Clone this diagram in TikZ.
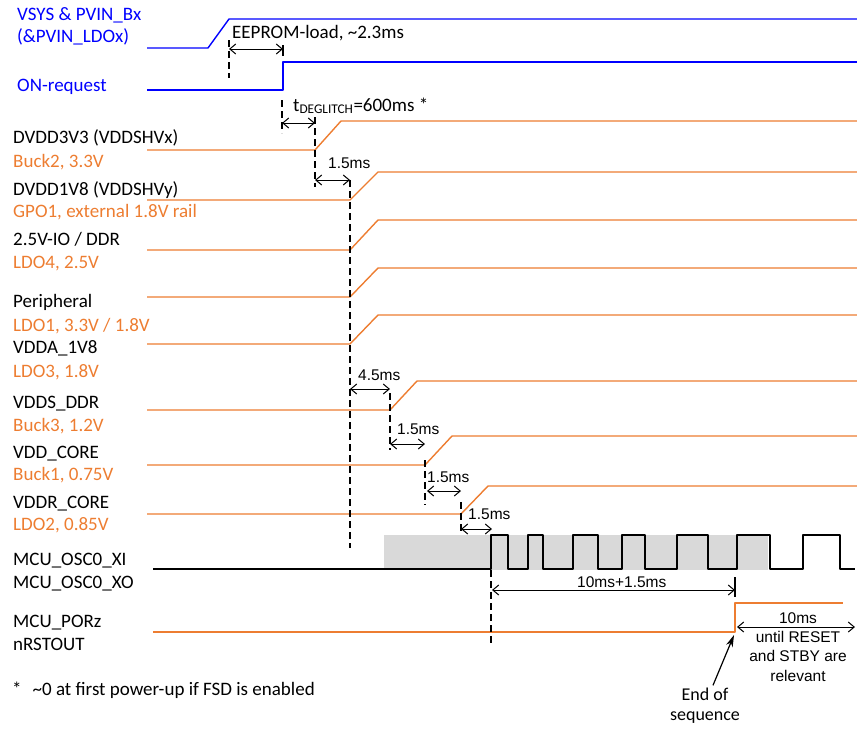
\documentclass[tikz,border=0pt]{standalone}
\usepackage{fontspec}
\setmainfont{Carlito}
\newfontfamily\arialfont{Liberation Sans}
\usetikzlibrary{arrows.meta}
\definecolor{railorange}{RGB}{237,125,49}
\definecolor{railblue}{RGB}{0,0,255}
\definecolor{oscgray}{RGB}{217,217,217}
\begin{document}
\begin{tikzpicture}[x=1pt, y=-1pt, font=\fontsize{19}{22}\selectfont, line join=round,
	>={Straight Barb[length=6pt,width=10pt]},
	lbl/.style={anchor=base west, inner sep=0pt},
	mslbl/.style={anchor=base west, inner sep=0pt, font=\arialfont\fontsize{15.5}{19.3}\selectfont},
	rail/.style={railorange, line width=1.4pt},
	ctl/.style={railblue, line width=1.4pt},
	dim/.style={<->, line width=1pt},
	guide/.style={line width=1.3pt, dash pattern=on 7pt off 4pt}]
	\useasboundingbox (0,0) rectangle (857,731);
	% control signals
	\node[lbl, railblue] (vsys) at (17,20) {VSYS \& PVIN\_Bx};
	\node[lbl, railblue] (pvin) at (17,42) {(\&PVIN\_LDOx)};
	\node[lbl, railblue] (onreq) at (17,91) {ON-request};
	\draw[ctl] (147,48) -- (208,48) -- (229,19) -- (857,19);
	\draw[ctl] (147,90) -- (283,90) -- (283,62) -- (857,62);
	% rails
	\foreach \lo/\t/\hi/\te in {150/315/121/341, 200/350/172/378, 250/350/220/378, 297/350/268/378,
		344/350/315/378, 410/390/381/417, 465/425/436/452, 514/461/486/488}
	\draw[rail] (147,\lo) -- (\t,\lo) -- (\te,\hi) -- (857,\hi);
	\foreach \sig/\src/\y/\ys [count=\i] in {{DVDD3V3 (VDDSHVx)}/{Buck2, 3.3V}/143/167,
		{DVDD1V8 (VDDSHVy)}/{GPO1, external 1.8V rail}/195/217,
		{2.5V-IO / DDR}/{LDO4, 2.5V}/245/268,
		{Peripheral}/{LDO1, 3.3V / 1.8V}/307/331,
		{VDDA\_1V8}/{LDO3, 1.8V}/353/377,
		{VDDS\_DDR}/{Buck3, 1.2V}/408/431,
		{VDD\_CORE}/{Buck1, 0.75V}/458/480,
		{VDDR\_CORE}/{LDO2, 0.85V}/508/530}
	{
		\node[lbl] (sig\i) at (13,\y) {\sig};
		\node[lbl, railorange] (src\i) at (13,\ys) {\src};
	}
	% oscillator
	\node[lbl] (xi) at (13,565) {MCU\_OSC0\_XI};
	\node[lbl] (xo) at (13,588) {MCU\_OSC0\_XO};
	\fill[oscgray] (384,535) rectangle (768,570);
	\draw[line width=1.4pt] (153,569)
	\foreach \r/\f in {491/508, 528/543, 573/598, 622/645, 677/708, 737/770, 803/840}
	{ -- (\r,569) -- (\r,535) -- (\f,535) -- (\f,569) } -- (855,569);
	% reset
	\node[lbl] (porz) at (13,627) {MCU\_PORz};
	\node[lbl] (rstout) at (13,650) {nRSTOUT};
	\draw[rail] (153,632) -- (735,632) -- (735,603) -- (843,603);
	% guides
	\foreach \x/\a/\b in {229/40/78, 282/100/133, 315/117/187, 350/180/548, 390/393/450,
		425/460/505, 461/502/533, 491/570/645}
	\draw[guide] (\x,\a) -- (\x,\b);
	\draw[line width=1.2pt] (283,45) -- (283,56);
	\draw[line width=1.2pt] (735,577) -- (735,597);
	% timings
	\draw[dim] (229,49) -- (283,49);
	\draw[dim] (282,123) -- (315,123);
	\draw[dim] (315,180) -- (350,180);
	\draw[dim] (350,389) -- (390,389);
	\draw[dim] (390,444) -- (425,444);
	\draw[dim] (427,491) -- (461,491);
	\draw[dim] (461,529) -- (492,529);
	\draw[dim] (492,590) -- (735,590);
	\draw[dim] (737,627) -- (855,627);
	\node[lbl] (eeprom) at (232,38) {EEPROM-load, \textasciitilde2.3ms};
	\node[lbl] (deglitch) at (293,111) {t\textsubscript{DEGLITCH}=600ms *};
	\node[mslbl] (dA) at (328,168) {1.5ms};
	\node[mslbl] (dB) at (358,380) {4.5ms};
	\node[mslbl] (dC) at (397,434) {1.5ms};
	\node[mslbl] (dD) at (427,482) {1.5ms};
	\node[mslbl] (dE) at (468,519) {1.5ms};
	\node[mslbl] (dF) at (577,587) {10ms+1.5ms};
	\node[mslbl, anchor=base] (dG) at (798,623) {10ms};
	\node[mslbl, anchor=base, align=center] (relv) at (798,681) {until RESET\\and STBY are\\relevant};
	% end of sequence
	\coordinate (porEdge) at (734,635);
	\node[anchor=base, inner sep=0pt, align=center, font=\fontsize{18}{20}\selectfont] (eos) at (705,720) {End of\\sequence};
	\draw[-{Stealth[length=12pt,width=7pt]}, line width=1.2pt] ([xshift=8pt,yshift=2pt]eos.north) -- (porEdge);
	\node[lbl] (note) at (12,695) {*\hspace{11pt}\textasciitilde0 at first power-up if FSD is enabled};
\end{tikzpicture}
\end{document}
